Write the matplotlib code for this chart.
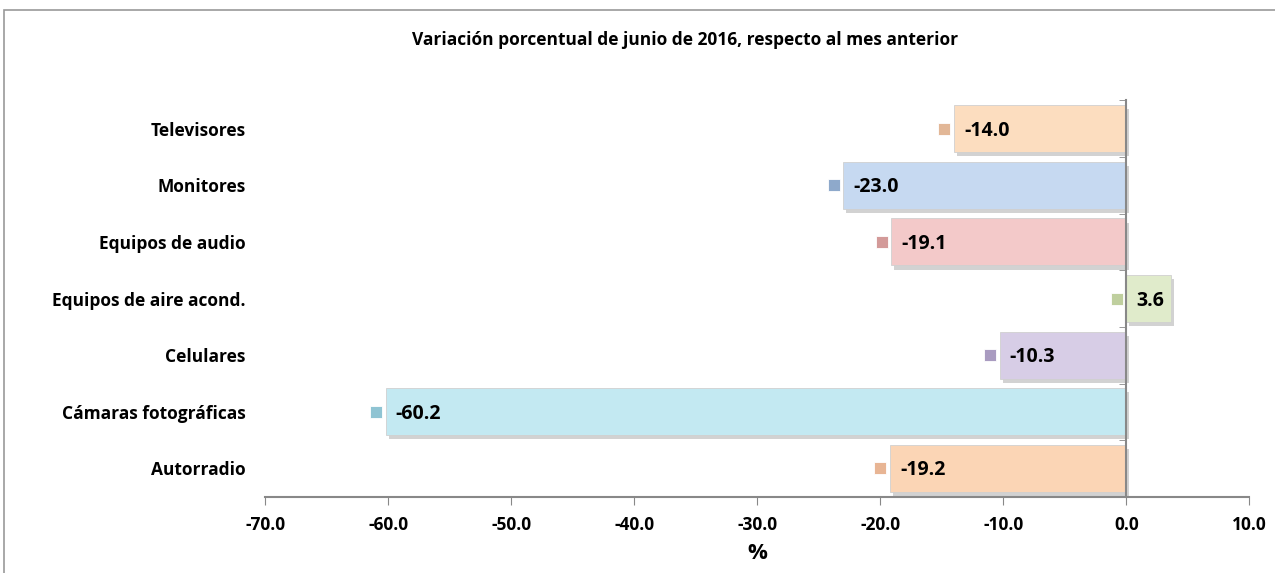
import matplotlib.pyplot as plt
import matplotlib.patheffects as pe
from matplotlib.patches import Rectangle
from matplotlib.ticker import FixedLocator
import numpy as np

plt.rcParams['font.family'] = ['Open Sans', 'DejaVu Sans']

# data (bottom to top)
categorias = ['Autorradio', 'Cámaras fotográficas', 'Celulares', 'Equipos de aire acond.',
              'Equipos de audio', 'Monitores', 'Televisores']
variacion = [-19.2, -60.2, -10.3, 3.6, -19.1, -23.0, -14.0]
colores = ['#FBD5B5', '#C3E9F2', '#D7CDE6', '#E0EBCB', '#F3C9C9', '#C6D9F1', '#FCDDBF']
marcas = ['#E8B594', '#8FC4D3', '#A99BC0', '#BFCF9E', '#D39A99', '#8EA9CB', '#E2B797']

W = 'bold'
FS = 12.5

fig = plt.figure(figsize=(12.75, 5.73), dpi=100)
ax = fig.add_axes([0.208, 0.133, 0.772, 0.692])

# spine moves first: set_position resets the ticks of the y axis
for s in ['top', 'left']:
    ax.spines[s].set_visible(False)
ax.spines['right'].set_position(('data', 0))
ax.spines['right'].set_color('#888888')
ax.spines['right'].set_linewidth(1.5)
ax.spines['bottom'].set_color('#888888')
ax.spines['bottom'].set_linewidth(1.5)

y = np.arange(len(categorias))
bars = ax.barh(y, variacion, height=0.83, color=colores, edgecolor='#d0d0d0', linewidth=0.6, zorder=2)
for b in bars:
    b.set_path_effects([pe.SimplePatchShadow(offset=(2, -3), alpha=0.35, shadow_rgbFace='#808080'), pe.Normal()])

for i, v in enumerate(variacion):
    lo = min(v, 0)
    ax.scatter(lo - 0.8, i, marker='s', s=80, color=marcas[i], edgecolor='#ffffff', linewidth=0.6, zorder=3)
    ax.annotate('{:.1f}'.format(v), (lo, i), xytext=(10, -2), textcoords='offset pixels',
                ha='left', va='center', fontsize=14, fontweight=W, color='#000000', zorder=4)

ticks_x = np.arange(-70, 11, 10)
ax.set_xlim(-70, 10)
ax.set_ylim(-0.5, len(categorias) - 0.5)
ax.yaxis.set_minor_locator(FixedLocator(np.arange(-0.5, len(categorias), 1.0)))
ax.tick_params(axis='y', which='major', length=0, pad=14, labelsize=FS)
ax.tick_params(axis='y', which='minor', left=False, right=True, direction='in', length=5, color='#888888')
ax.tick_params(axis='x', which='major', direction='out', length=6, color='#888888', pad=8, labelsize=FS)
ax.set_xticks(ticks_x)
ax.set_xticklabels(['{:.1f}'.format(t) for t in ticks_x], fontweight=W)
ax.set_yticks(y)
ax.set_yticklabels(categorias, fontweight=W)

ax.set_xlabel('%', fontsize=16, fontweight=W, labelpad=6)
fig.text(0.537, 0.93, 'Variación porcentual de junio de 2016, respecto al mes anterior',
         ha='center', va='center', fontsize=FS, fontweight=W)

fig.add_artist(Rectangle((0.003, -0.05), 1.2, 1.032, transform=fig.transFigure,
                         fill=False, edgecolor='#999999', linewidth=1.2))

fig.savefig('out.png', dpi=100)
